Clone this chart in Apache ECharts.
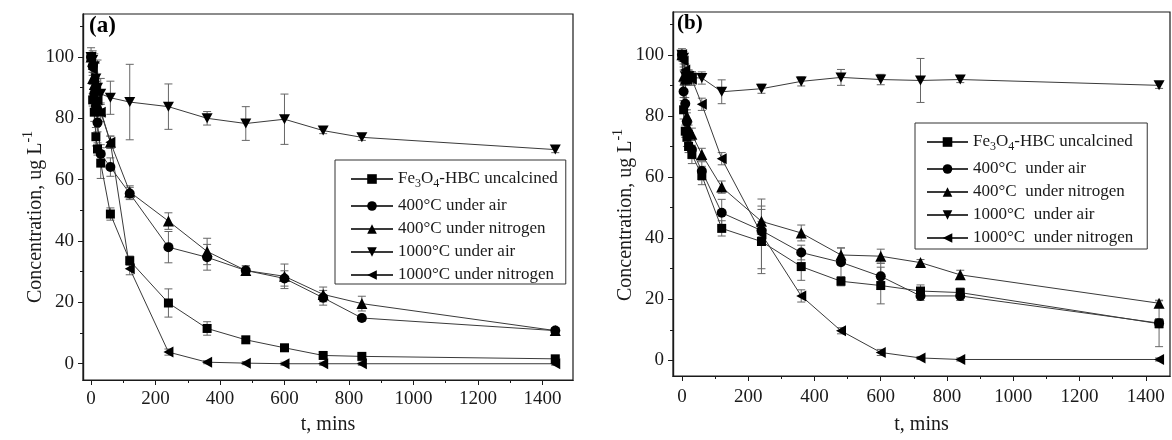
<!DOCTYPE html>
<html>
<head>
<meta charset="utf-8">
<script src="https://cdn.jsdelivr.net/npm/echarts@6.0.0/dist/echarts.min.js"></script>
<style>
  html, body { margin: 0; padding: 0; background: #fff; }
  #chart { width: 1172px; height: 440px; }
</style>
</head>
<body>
<div id="chart"></div>
<script>
// Sampling times (minutes)
const times = [0, 5, 10, 15, 20, 30, 60, 120, 240, 360, 480, 600, 720, 840, 1440];

// Axis tick values
const xMajorTicks = [0, 200, 400, 600, 800, 1000, 1200, 1400];
const xMinorTicks = [100, 300, 500, 700, 900, 1100, 1300, 1500];
const yMajorTicks = [0, 20, 40, 60, 80, 100];
const yMinorTicks = [10, 30, 50, 70, 90, 110];

// Legend names
const namesA = ['Fe3O4-HBC uncalcined', '400°C under air', '400°C under nitrogen', '1000°C under air', '1000°C under nitrogen'];
const namesB = ['Fe3O4-HBC uncalcined', '400°C  under air', '400°C  under nitrogen', '1000°C  under air', '1000°C  under nitrogen'];

// Panel (a): concentration, ug/L
const aUncal = [100, 86, 82, 74, 70, 65.4, 48.8, 33.6, 19.8, 11.5, 7.8, 5.2, 2.7, 2.4, 1.6];
const aAir = [100, 97, 88, 84, 78.6, 68.4, 64.1, 55.5, 38, 34.7, 30.4, 27.8, 21.5, 14.9, 10.8];
const aN2 = [100, 93, 91, 87, 84, 82.5, 72.2, 56, 46.5, 36.6, 30.4, 28.5, 22.6, 19.6, 10.8];
const a1000Air = [100, 99, 97, 93, 90, 88, 86.7, 85.3, 83.8, 80, 78.3, 79.7, 76, 73.8, 69.8];
const a1000N2 = [100, 96, 92, 89, 86, 82, 72.2, 31, 3.8, 0.5, 0.2, 0, 0, 0, 0];

// Panel (a): standard deviations
const aUncalErr = [0.5, 2, 3, 3, 2, 5, 2, 1.5, 4.6, 2.2, 1, 0.8, 0.5, 0.5, 0.5];
const aAirErr = [1, 2, 3, 3, 3, 3, 3, 2, 5.1, 4.2, 1.5, 2.5, 2.4, 1, 1];
const aN2Err = [1, 2, 3, 3, 2, 2, 2, 2, 2.7, 4.3, 1.5, 4, 2.4, 2.4, 1];
const a1000AirErr = [3, 3, 4, 5, 9, 5, 5.4, 12.3, 7.4, 2.2, 5.5, 8.2, 1, 1, 1];
const a1000N2Err = [1, 2, 3, 3, 3, 3, 2, 2, 1, 0.5, 0.5, 0.5, 0.5, 0.5, 0.5];

// Panel (b): concentration, ug/L
const bUncal = [100, 82, 75, 73, 70, 67.4, 60.5, 43.2, 38.9, 30.7, 25.9, 24.5, 22.7, 22.2, 12];
const bAir = [100, 88, 84, 78, 74, 69, 62, 48.3, 42.5, 35.3, 32.1, 27.5, 21.1, 21.1, 12.2];
const bN2 = [100, 93, 92, 80, 76, 74, 67.4, 56.7, 45.5, 41.7, 34.5, 34.1, 32, 28, 18.7];
const b1000Air = [100, 99, 93, 92, 93, 92.5, 92.4, 87.9, 88.9, 91.3, 92.6, 91.9, 91.6, 91.9, 90];
const b1000N2 = [100, 98, 95, 92, 93, 92, 83.8, 66, 41.4, 21.1, 9.7, 2.6, 0.8, 0.3, 0.3];

// Panel (b): standard deviations
const bUncalErr = [1, 3, 2, 3, 2, 3, 3, 2.5, 10.5, 4.5, 1.5, 6, 2, 1.5, 7.5];
const bAirErr = [1, 2, 2, 3, 3, 3, 3, 4.4, 3, 2.4, 4.7, 4.3, 1.5, 1.5, 1.5];
const bN2Err = [1, 2, 2, 2, 2, 2, 2, 2, 5, 2.6, 2.3, 2.3, 1, 1.5, 1];
const b1000AirErr = [2, 2, 2, 2, 2, 2, 2, 3.9, 1.5, 1.5, 2.6, 1.7, 7.2, 1, 1];
const b1000N2Err = [1, 2, 2, 2, 2, 2, 2, 2, 11.4, 2, 1, 1, 0.5, 0.5, 0.5];

const FONT = 'Liberation Serif, Times New Roman, serif';
const INK = '#1a1a1a';

// Marker shapes: square, circle, up, down, left triangles
const symbols = [
  { symbol: 'rect', size: 9 },
  { symbol: 'circle', size: 10 },
  { symbol: 'triangle', size: 11 },
  { symbol: 'path://M0,0L10,0L5,9Z', size: [11, 10] },
  { symbol: 'path://M9,0L9,10L0,5Z', size: [10, 11] }
];

function lineSeries(name, values, k, xi, yi) {
  return {
    type: 'line', name: name, xAxisIndex: xi, yAxisIndex: yi,
    data: times.map((t, i) => [t, values[i]]),
    symbol: symbols[k].symbol, symbolSize: symbols[k].size,
    showAllSymbol: true,
    lineStyle: { color: '#3a3a3a', width: 1 },
    itemStyle: { color: '#000' },
    emphasis: { disabled: true },
    z: 3, animation: false
  };
}

function errorSeries(values, errs, xi, yi) {
  return {
    type: 'custom', xAxisIndex: xi, yAxisIndex: yi, silent: true, z: 2, animation: false,
    data: times.map((t, i) => [t, values[i] - errs[i], values[i] + errs[i]]),
    encode: { x: 0, y: [1, 2] },
    renderItem: function (params, api) {
      const t = api.value(0);
      const top = api.coord([t, api.value(2)]);
      const bot = api.coord([t, api.value(1)]);
      const w = 4;
      const st = { stroke: '#666', lineWidth: 1 };
      return {
        type: 'group', children: [
          { type: 'line', shape: { x1: top[0], y1: top[1], x2: bot[0], y2: bot[1] }, style: st },
          { type: 'line', shape: { x1: top[0] - w, y1: top[1], x2: top[0] + w, y2: top[1] }, style: st },
          { type: 'line', shape: { x1: bot[0] - w, y1: bot[1], x2: bot[0] + w, y2: bot[1] }, style: st }
        ]
      };
    }
  };
}

const plainNumber = v => String(v);

function xAxes(gi, min, max, gap, margin) {
  const line = { onZero: false, lineStyle: { color: INK, width: 1.2 } };
  return [
    {
      gridIndex: gi, type: 'value', position: 'bottom', offset: 0, min: min, max: max,
      axisLine: line,
      axisTick: { customValues: xMajorTicks, length: 5, lineStyle: { color: INK } },
      axisLabel: { customValues: xMajorTicks, formatter: plainNumber, fontFamily: FONT, fontSize: 19, color: INK, margin: margin },
      splitLine: { show: false },
      name: 't, mins', nameLocation: 'middle', nameGap: gap,
      nameTextStyle: { fontFamily: FONT, fontSize: 20, color: INK }
    },
    {
      gridIndex: gi, type: 'value', position: 'bottom', offset: 0, min: min, max: max,
      axisLine: line,
      axisTick: { customValues: xMinorTicks, length: 3, lineStyle: { color: INK } },
      axisLabel: { show: false },
      splitLine: { show: false }
    }
  ];
}

function yAxes(gi, min, max) {
  const line = { onZero: false, lineStyle: { color: INK, width: 1.2 } };
  return [
    {
      gridIndex: gi, type: 'value', position: 'left', offset: 0, min: min, max: max,
      axisLine: line,
      axisTick: { customValues: yMajorTicks, length: 5, lineStyle: { color: INK } },
      axisLabel: { customValues: yMajorTicks, formatter: plainNumber, fontFamily: FONT, fontSize: 19, color: INK, margin: 9 },
      splitLine: { show: false }
    },
    {
      gridIndex: gi, type: 'value', position: 'left', offset: 0, min: min, max: max,
      axisLine: line,
      axisTick: { customValues: yMinorTicks, length: 3, lineStyle: { color: INK } },
      axisLabel: { show: false },
      splitLine: { show: false }
    }
  ];
}

function legendFor(names, left, top, itemWidth, pad) {
  return {
    orient: 'vertical', left: left, top: top, data: names,
    itemWidth: itemWidth, itemHeight: 12, itemGap: 5,
    padding: pad, borderColor: '#333', borderWidth: 1,
    selectedMode: false,
    formatter: function (name) { return name.replace('Fe3O4', 'Fe{s|3}O{s|4}'); },
    textStyle: {
      fontFamily: FONT, fontSize: 17, color: INK, lineHeight: 18,
      rich: { s: { fontFamily: FONT, fontSize: 12, color: INK, lineHeight: 26, padding: [9, 0, 0, 0] } }
    }
  };
}

const seriesA = [aUncal, aAir, aN2, a1000Air, a1000N2];
const errA = [aUncalErr, aAirErr, aN2Err, a1000AirErr, a1000N2Err];
const seriesB = [bUncal, bAir, bN2, b1000Air, b1000N2];
const errB = [bUncalErr, bAirErr, bN2Err, b1000AirErr, b1000N2Err];

const series = [];
seriesA.forEach((v, k) => series.push(errorSeries(v, errA[k], 0, 0)));
seriesB.forEach((v, k) => series.push(errorSeries(v, errB[k], 2, 2)));
seriesA.forEach((v, k) => series.push(lineSeries(namesA[k], v, k, 0, 0)));
seriesB.forEach((v, k) => series.push(lineSeries(namesB[k], v, k, 2, 2)));

const yTitle = {
  text: 'Concentration, ug L{sup|-1}',
  fontFamily: FONT, fontSize: 20, fill: INK,
  align: 'center', verticalAlign: 'middle',
  rich: { sup: { fontFamily: FONT, fontSize: 14, fill: INK, padding: [0, 0, 16, 0] } }
};

const chart = echarts.init(document.getElementById('chart'), null, { renderer: 'canvas' });
chart.setOption({
  backgroundColor: '#fff',
  animation: false,
  grid: [
    { left: 83, top: 14, width: 490, height: 369, show: true, borderColor: INK, borderWidth: 1.2, backgroundColor: 'transparent' },
    { left: 673, top: 12, width: 497, height: 371, show: true, borderColor: INK, borderWidth: 1.2, backgroundColor: 'transparent' }
  ],
  xAxis: [].concat(xAxes(0, -25, 1495, 35, 10), xAxes(1, -27, 1473, 39, 12)),
  yAxis: [].concat(yAxes(0, -5.3, 114), yAxes(1, -5.1, 114)),
  legend: [
    legendFor(namesA, 335, 160, 42, [6, 8, 0, 15]),
    legendFor(namesB, 915, 123, 41, [6, 14, 2, 11])
  ],
  graphic: [
    { type: 'text', left: 89, top: 15, style: { text: '(a)', fontFamily: FONT, fontSize: 23, fontWeight: 'bold', fill: '#000' } },
    { type: 'text', left: 677, top: 13, style: { text: '(b)', fontFamily: FONT, fontSize: 21, fontWeight: 'bold', fill: '#000' } },
    { type: 'text', x: 36, y: 217, rotation: Math.PI / 2, style: yTitle },
    { type: 'text', x: 626, y: 215, rotation: Math.PI / 2, style: yTitle }
  ],
  series: series
});
</script>
</body>
</html>
